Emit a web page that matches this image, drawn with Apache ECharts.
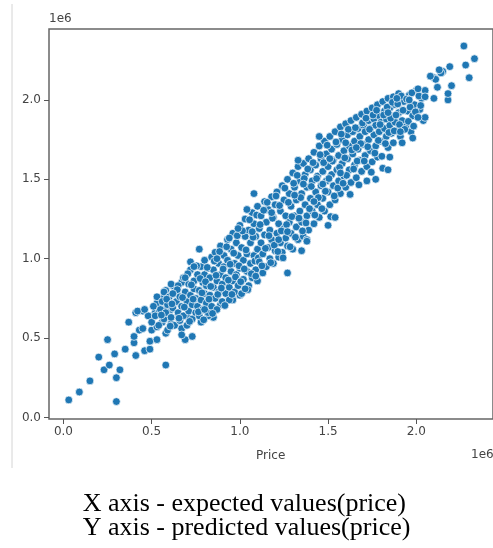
<!DOCTYPE html>
<html>
<head>
<meta charset="utf-8">
<script src="https://cdn.jsdelivr.net/npm/echarts@6/dist/echarts.min.js"></script>
<style>
  html, body { margin: 0; padding: 0; background: #fff; }
  #chart { width: 493px; height: 548px; }
</style>
</head>
<body>
<div id="chart"></div>
<script>
// all values in units of 1e6 (price)
const xTicks = [0, 0.5, 1.0, 1.5, 2.0];
const yTicks = [0, 0.5, 1.0, 1.5, 2.0];

// sparse points, lower left
const lowPoints = [
  [0.03,0.11],[0.09,0.16],[0.15,0.23],[0.30,0.10],[0.30,0.25],[0.32,0.30],[0.23,0.30],[0.26,0.33],
  [0.20,0.38],[0.29,0.40],[0.25,0.49],[0.35,0.43],[0.41,0.39],[0.40,0.47],[0.40,0.51],[0.46,0.42],
  [0.49,0.43],[0.49,0.48],[0.53,0.49],[0.58,0.33],[0.37,0.60],[0.41,0.66],[0.45,0.67],[0.43,0.55],
  [0.45,0.56],[0.50,0.55],[0.49,0.64],[0.52,0.66],[0.56,0.60],[0.61,0.59],[0.67,0.56],[0.69,0.49],
  [0.73,0.51],[0.58,0.53],[0.54,0.66],[0.58,0.68],[0.61,0.68],[0.53,0.57],[0.58,0.80],[0.62,0.83],
  [0.67,0.85],[0.72,0.98],[0.77,1.06],[0.56,0.75],[0.53,0.72],[0.48,0.64],[0.42,0.67],[0.46,0.68],
  [0.70,0.64],[0.67,0.52],[0.78,0.60],[0.85,0.63],[0.82,0.64],[0.89,0.71],[0.96,0.74],[1.00,0.77]
];

// main band, x 0.5 - 1.1
const bandLow = [
  [0.50,0.60],[0.51,0.70],[0.52,0.64],[0.53,0.76],[0.54,0.58],[0.55,0.68],[0.56,0.73],[0.57,0.62],
  [0.57,0.79],[0.58,0.66],[0.59,0.55],[0.59,0.71],[0.60,0.76],[0.61,0.63],[0.61,0.84],[0.62,0.69],
  [0.63,0.58],[0.63,0.78],[0.64,0.73],[0.65,0.66],[0.65,0.83],[0.66,0.61],[0.66,0.76],[0.67,0.70],
  [0.68,0.88],[0.68,0.64],[0.69,0.79],[0.70,0.73],[0.70,0.58],[0.71,0.84],[0.71,0.67],[0.72,0.77],
  [0.72,0.93],[0.73,0.62],[0.73,0.71],[0.74,0.86],[0.74,0.81],[0.75,0.66],[0.75,0.75],[0.76,0.90],
  [0.76,0.70],[0.77,0.80],[0.77,0.64],[0.78,0.95],[0.78,0.74],[0.79,0.85],[0.79,0.68],[0.80,0.78],
  [0.80,0.99],[0.80,0.90],[0.81,0.72],[0.81,0.83],[0.82,0.94],[0.82,0.66],[0.83,0.77],[0.83,0.88],
  [0.84,1.01],[0.84,0.70],[0.85,0.82],[0.85,0.93],[0.86,0.75],[0.86,1.04],[0.87,0.86],[0.87,0.68],
  [0.88,0.97],[0.88,0.79],[0.89,0.90],[0.89,1.08],[0.90,0.73],[0.90,0.84],[0.91,0.95],[0.91,1.02],
  [0.92,0.78],[0.92,0.88],[0.93,1.12],[0.93,0.99],[0.94,0.82],[0.94,0.74],[0.95,0.92],[0.95,1.06],
  [0.96,0.86],[0.96,1.16],[0.97,0.97],[0.97,0.79],[0.98,1.10],[0.98,0.90],[0.99,1.02],[0.99,0.83],
  [1.00,1.21],[1.00,0.94],[1.01,1.07],[1.01,0.78],[1.02,0.99],[1.02,0.87],[1.03,1.14],[1.03,1.25],
  [1.04,0.92],[1.04,1.03],[1.05,0.83],[1.05,1.18],[1.06,0.97],[1.06,1.10],[1.07,1.29],[1.07,0.88],
  [1.08,1.02],[1.08,1.22],[1.09,0.93],[1.09,1.14],[1.10,1.06],[1.10,0.86],[1.10,1.33]
];

// main band, x 1.1 - 1.7
const bandMid = [
  [1.11,0.98],[1.11,1.19],[1.12,1.10],[1.12,1.27],[1.13,0.91],[1.13,1.03],[1.14,1.36],[1.14,1.15],
  [1.15,0.95],[1.15,1.23],[1.16,1.07],[1.16,1.31],[1.17,1.00],[1.17,1.18],[1.18,1.39],[1.18,1.12],
  [1.19,0.97],[1.19,1.26],[1.20,1.05],[1.20,1.34],[1.21,1.16],[1.21,1.42],[1.22,1.01],[1.22,1.22],
  [1.23,1.10],[1.23,1.30],[1.24,1.46],[1.24,1.04],[1.25,1.19],[1.25,1.37],[1.26,1.13],[1.26,1.27],
  [1.27,1.50],[1.27,1.08],[1.28,1.23],[1.28,1.41],[1.29,1.16],[1.29,1.33],[1.30,1.54],[1.30,1.06],
  [1.31,1.27],[1.31,1.45],[1.32,1.20],[1.32,1.37],[1.33,1.12],[1.33,1.58],[1.34,1.30],[1.34,1.49],
  [1.35,1.23],[1.35,1.41],[1.36,1.14],[1.36,1.60],[1.37,1.34],[1.37,1.53],[1.38,1.27],[1.38,1.45],
  [1.39,1.18],[1.39,1.63],[1.40,1.38],[1.40,1.56],[1.41,1.30],[1.41,1.49],[1.42,1.22],[1.42,1.67],
  [1.43,1.42],[1.43,1.59],[1.44,1.34],[1.44,1.52],[1.45,1.26],[1.45,1.71],[1.46,1.46],[1.46,1.63],
  [1.47,1.38],[1.47,1.55],[1.48,1.30],[1.48,1.74],[1.49,1.49],[1.49,1.66],[1.50,1.42],[1.50,1.58],
  [1.51,1.34],[1.51,1.77],[1.52,1.53],[1.52,1.69],[1.53,1.46],[1.53,1.62],[1.54,1.37],[1.54,1.80],
  [1.55,1.56],[1.55,1.72],[1.56,1.49],[1.56,1.65],[1.57,1.41],[1.57,1.83],[1.58,1.60],[1.58,1.75],
  [1.59,1.52],[1.59,1.68],[1.60,1.45],[1.60,1.85],[1.61,1.63],[1.61,1.78],[1.62,1.56],[1.62,1.71],
  [1.63,1.48],[1.63,1.87],[1.64,1.66],[1.64,1.80],[1.65,1.59],[1.65,1.74],[1.66,1.51],[1.66,1.89],
  [1.67,1.69],[1.67,1.82],[1.68,1.62],[1.68,1.77],[1.69,1.55],[1.69,1.91],[1.70,1.72],[1.70,1.84]
];

// main band, x 1.7 - 2.05
const bandHigh = [
  [1.71,1.65],[1.71,1.80],[1.72,1.58],[1.72,1.93],[1.73,1.75],[1.73,1.87],[1.74,1.68],[1.74,1.82],
  [1.75,1.61],[1.75,1.95],[1.76,1.78],[1.76,1.88],[1.77,1.71],[1.77,1.84],[1.78,1.64],[1.78,1.97],
  [1.79,1.80],[1.79,1.90],[1.80,1.74],[1.80,1.86],[1.81,1.57],[1.81,1.99],[1.82,1.82],[1.82,1.93],
  [1.83,1.77],[1.83,1.88],[1.84,1.70],[1.84,2.01],[1.85,1.84],[1.85,1.95],[1.86,1.79],[1.86,1.90],
  [1.87,1.73],[1.87,2.02],[1.88,1.86],[1.88,1.97],[1.89,1.81],[1.90,1.92],[1.90,2.04],[1.91,1.77],
  [1.92,1.87],[1.93,1.99],[1.94,1.83],[1.95,1.93],[1.96,2.03],[1.97,1.80],[1.98,1.90],[1.99,1.97],
  [2.00,2.06],[2.02,1.94],[2.03,2.01],[2.04,1.87],[2.05,2.06]
];

// extra points in the dense part, read between the ones above
const fillLow = [
  [0.555,0.645],[0.585,0.745],[0.605,0.575],[0.615,0.715],[0.645,0.805],[0.655,0.625],[0.675,0.755],
  [0.685,0.695],[0.705,0.905],[0.715,0.605],[0.725,0.835],[0.735,0.745],[0.755,0.955],[0.765,0.665],
  [0.775,0.875],[0.785,0.785],[0.795,0.615],[0.805,0.855],[0.815,0.945],[0.825,0.745],[0.835,0.825],
  [0.845,0.655],[0.855,0.985],[0.865,0.895],[0.875,0.775],[0.885,1.045],[0.895,0.815],[0.905,0.935],
  [0.915,0.705],[0.925,1.075],[0.935,0.865],[0.945,0.965],[0.955,0.775],[0.965,1.035],[0.975,0.885],
  [0.985,1.145],[0.995,0.955],[1.005,0.855],[1.015,1.175],[1.025,0.935],[1.035,1.055],[1.045,0.805],
  [1.055,1.245],[1.065,0.905],[1.075,1.135],[1.085,0.985],[1.095,1.275],[1.105,1.005],[1.07,1.17],
  [1.03,0.81],[0.94,1.13],[0.87,1.00],[0.80,0.68],[0.74,0.95],[0.69,0.88],[0.62,0.78],[0.99,1.19],
  [1.04,1.31],[1.09,0.89]
];

const fillMid = [
  [1.115,1.215],[1.125,0.955],[1.135,1.305],[1.145,1.065],[1.155,1.355],[1.165,1.145],[1.175,0.975],
  [1.185,1.255],[1.195,1.085],[1.205,1.395],[1.215,1.045],[1.225,1.335],[1.235,1.175],[1.245,1.005],
  [1.255,1.445],[1.265,1.215],[1.275,1.355],[1.285,1.075],[1.295,1.265],[1.305,1.475],[1.315,1.135],
  [1.325,1.525],[1.335,1.255],[1.345,1.385],[1.355,1.175],[1.365,1.505],[1.375,1.225],[1.385,1.565],
  [1.395,1.315],[1.405,1.455],[1.415,1.605],[1.425,1.275],[1.435,1.505],[1.445,1.385],[1.455,1.655],
  [1.465,1.315],[1.475,1.605],[1.485,1.425],[1.495,1.715],[1.505,1.505],[1.515,1.265],[1.525,1.615],
  [1.535,1.395],[1.545,1.735],[1.555,1.445],[1.565,1.575],[1.575,1.785],[1.585,1.475],[1.595,1.635],
  [1.605,1.525],[1.615,1.815],[1.625,1.405],[1.635,1.685],[1.645,1.565],[1.655,1.825],[1.665,1.615],
  [1.675,1.465],[1.685,1.725],[1.695,1.855],[1.22,1.12],[1.31,1.40],[1.42,1.36],[1.51,1.63],
  [1.60,1.73],[1.18,1.29],[1.27,1.17],[1.36,1.47],[1.47,1.47],[1.57,1.54],[1.66,1.70]
];

const fillHigh = [
  [1.705,1.615],[1.715,1.885],[1.725,1.705],[1.735,1.815],[1.745,1.545],[1.755,1.905],[1.765,1.665],
  [1.775,1.935],[1.785,1.745],[1.795,1.845],[1.805,1.645],[1.815,1.905],[1.825,1.725],[1.835,1.955],
  [1.845,1.795],[1.855,1.885],[1.865,1.985],[1.875,1.805],[1.885,1.905],[1.895,1.975],[1.905,1.845],
  [1.915,2.025],[1.925,1.935],[1.935,1.815],[1.945,2.005],[1.955,1.865],[1.965,1.955],[1.975,2.045],
  [1.985,1.835],[1.995,1.925],[2.015,2.025],[2.025,1.965]
];

// points off the band
const strayPoints = [
  [1.45,1.77],[1.33,1.62],[1.08,1.41],[1.54,1.26],[1.50,1.21],[1.38,1.12],[1.72,1.49],[1.77,1.50],
  [1.84,1.56],[1.85,1.64],[1.92,1.73],[1.91,1.80],[1.27,0.91],[1.35,1.05],[1.38,1.11]
];

// sparse points, upper right
const highPoints = [
  [2.27,2.34],[2.33,2.26],[2.28,2.22],[2.30,2.14],[2.19,2.21],[2.15,2.18],[2.10,2.14],[2.12,2.08],
  [2.20,2.09],[2.18,2.00],[2.10,2.01],[2.05,2.02],[2.05,1.89],[2.01,1.89],[1.98,1.76],[2.01,2.07],
  [1.96,2.00],[1.89,2.01],[1.84,1.92],[2.14,2.17],[2.13,2.19],[2.11,2.13],[2.18,2.04],[2.08,2.15]
];

const points = [].concat(lowPoints, bandLow, fillLow, bandMid, fillMid, bandHigh, fillHigh, strayPoints, highPoints);

const chart = echarts.init(document.getElementById('chart'), null, { renderer: 'canvas' });

const labelStyle = { color: '#444', fontSize: 12, fontFamily: 'DejaVu Sans' };

chart.setOption({
  animation: false,
  grid: {
    left: 49, top: 29, right: -1, bottom: 129,
    show: true,
    borderColor: '#666',
    borderWidth: 1.5,
    backgroundColor: '#fff'
  },
  xAxis: {
    type: 'value',
    min: -0.082,
    max: 2.435,
    splitLine: { show: false },
    axisLine: { show: false, onZero: false },
    axisTick: { show: true, length: 5, lineStyle: { color: '#555' }, customValues: xTicks },
    axisLabel: Object.assign({ margin: 7, customValues: xTicks, formatter: v => v.toFixed(1) }, labelStyle)
  },
  yAxis: {
    type: 'value',
    min: -0.01,
    max: 2.447,
    splitLine: { show: false },
    axisLine: { show: false, onZero: false },
    axisTick: { show: true, length: 5, lineStyle: { color: '#555' }, customValues: yTicks },
    axisLabel: Object.assign({ margin: 8, customValues: yTicks, formatter: v => v.toFixed(1) }, labelStyle)
  },
  series: [{
    type: 'scatter',
    data: points,
    symbolSize: 7.8,
    itemStyle: { color: '#1f77b4', borderColor: '#fff', borderWidth: 0.7, opacity: 1 }
  }],
  graphic: [
    { type: 'line', shape: { x1: 12, y1: 4, x2: 12, y2: 468 }, style: { stroke: '#d4d4d4', lineWidth: 1 } },
    { type: 'text', left: 49, top: 13, style: { text: '1e6', fill: '#444', font: '12px DejaVu Sans' } },
    { type: 'text', left: 256, top: 450, style: { text: 'Price', fill: '#444', font: '12px DejaVu Sans' } },
    { type: 'text', left: 471, top: 449, style: { text: '1e6', fill: '#444', font: '12px DejaVu Sans' } },
    { type: 'text', left: 'center', top: 491, style: {
        text: 'X axis - expected values(price)\nY axis - predicted values(price)',
        fill: '#000', font: '26px "Liberation Serif"', align: 'center', lineHeight: 24
      } }
  ]
});
</script>
</body>
</html>
